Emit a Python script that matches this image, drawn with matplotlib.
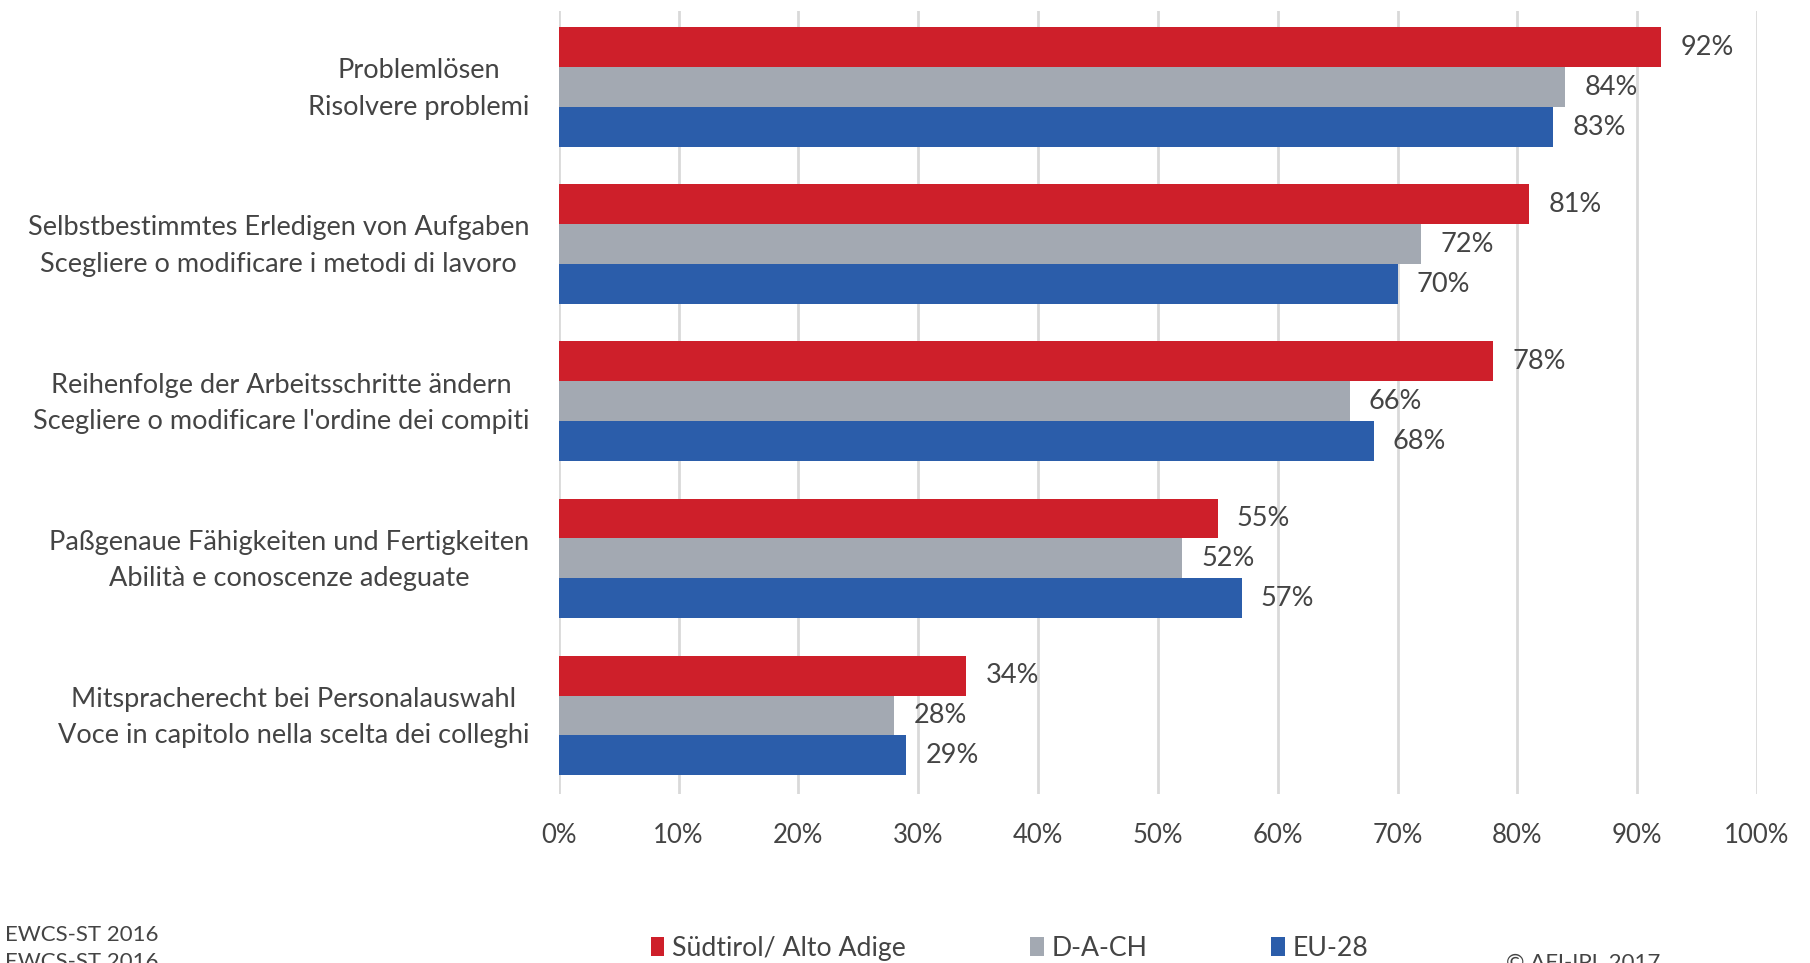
import matplotlib.pyplot as plt
import matplotlib.transforms as mtransforms
import numpy as np

#---    Data
categories = ['Problemlösen\nRisolvere problemi',
              'Selbstbestimmtes Erledigen von Aufgaben\nScegliere o modificare i metodi di lavoro',
              "Reihenfolge der Arbeitsschritte ändern\nScegliere o modificare l'ordine dei compiti",
              'Paßgenaue Fähigkeiten und Fertigkeiten\nAbilità e conoscenze adeguate',
              'Mitspracherecht bei Personalauswahl\nVoce in capitolo nella scelta dei colleghi']
series_names = ['Südtirol/ Alto Adige', 'D-A-CH', 'EU-28']
suedtirol = [92, 81, 78, 55, 34]
dach = [84, 72, 66, 52, 28]
eu28 = [83, 70, 68, 57, 29]
xticks = [0, 10, 20, 30, 40, 50, 60, 70, 80, 90, 100]

colors = ['#CE1F2A', '#A3A9B2', '#2B5DAA']
text_color = '#444444'
plt.rcParams['font.family'] = ['Lato', 'DejaVu Sans']

fig = plt.figure(figsize=(18.1, 9.63), dpi=100)
ax = fig.add_axes([0.3087, 0.1755, 0.662, 0.8131])

y = np.arange(len(categories))
h = 0.254
bars = []
for k, (vals, col, name) in enumerate(zip([suedtirol, dach, eu28], colors, series_names)):
    pos = y + (k - 1) * h
    b = ax.barh(pos, vals, height=h, color=col, label=name, zorder=3)
    bars.append(b)
    for p, v in zip(pos, vals):
        ax.text(v + 1.6, p, str(v) + '%', va='center', ha='left',
                fontsize=19.5, color=text_color)

ax.set_xlim(0, 100)
ax.set_ylim(4.5, -0.485)
ax.set_xticks(xticks)
ax.set_xticklabels([str(t) + '%' for t in xticks], fontsize=18.5, color=text_color)
ax.set_yticks(y)
ax.set_yticklabels(categories, fontsize=19.5, color=text_color, multialignment='center',
                   linespacing=1.58)
ax.tick_params(axis='x', length=0, pad=21)
ax.tick_params(axis='y', length=0, pad=21)
# nudge category labels up a little
shift = mtransforms.ScaledTranslation(0, 4.5 / 72, fig.dpi_scale_trans)
for lbl in ax.get_yticklabels():
    lbl.set_transform(lbl.get_transform() + shift)
ax.grid(axis='x', color='#D9D9D9', linewidth=2, zorder=0)
for s in ax.spines.values():
    s.set_visible(False)

leg = fig.legend(handles=bars, labels=series_names, ncol=3, loc='center left',
                 bbox_to_anchor=(0.3465, 0.015), frameon=False, fontsize=19.2,
                 handlelength=0.5, handleheight=0.7, handletextpad=0.3,
                 columnspacing=4.65)
for t in leg.get_texts():
    t.set_color(text_color)

fig.text(0.003, 1 - 935 / 963, 'EWCS-ST 2016', fontsize=16, color=text_color, va='center')
fig.text(0.003, 1 - 962 / 963, 'EWCS-ST 2016', fontsize=16, color=text_color, va='center')
fig.text(0.832, 1 - 953 / 963, '© AFI-IPL 2017', fontsize=16, color=text_color, va='top')

plt.savefig('out.png', dpi=100)
